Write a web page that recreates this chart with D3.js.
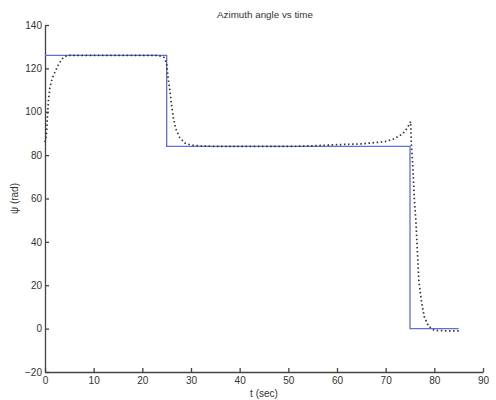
<!DOCTYPE html>
<html>
<head>
<meta charset="utf-8">
<script src="https://cdn.jsdelivr.net/npm/d3@7"></script>
<style>
  body { margin: 0; background: #fff; }
  text { font-family: "Liberation Sans", Arial, sans-serif; fill: #333; }
</style>
</head>
<body>
<script>
var width = 496,
    height = 400,
    margin = {top: 25, right: 13, bottom: 28, left: 45};

// commanded azimuth (step changes)
var stepTimes = [0, 25, 75, 85],
    stepLevels = [126, 84, 0, 0];

var respTimes = [0, 0.2, 0.35, 0.5, 0.7, 1.0, 1.3, 1.6, 2.0, 2.3, 2.7, 3.1, 3.6, 4.1, 5, 6, 8, 12, 16, 20, 23, 24, 24.5,
                 25, 25.3, 25.7, 26.0, 26.4, 26.9, 27.7, 28.8, 30, 32, 36, 40, 45, 50, 55, 60, 65, 68, 70, 71.6, 72.6,
                 73.6, 74.4, 75.0, 75.12, 75.3, 75.5, 75.7, 75.9, 76.2, 76.4, 76.6, 76.8, 77.3, 77.9, 78.8, 80, 82, 85];
var respValues = [86, 88, 91, 98, 105, 111, 114, 116, 118, 119.5, 121.5, 123, 124.5, 125.5, 126, 126, 126, 126, 126, 126, 126, 125.5, 125,
                  122, 115.5, 109, 103, 97, 92, 88, 85.5, 84.6, 84.2, 84, 84, 84, 84, 84.3, 84.8, 85.2, 85.8, 86.3, 87.4, 88.6,
                  90.1, 92.4, 94.8, 95.5, 84, 78, 69, 59.5, 50, 41, 32, 22.6, 13.4, 5.7, 1.1, -0.8, -1, -1];

var xTicks = d3.range(0, 91, 10),
    yTicks = d3.range(-20, 141, 20);

var svg = d3.select("body").append("svg")
    .attr("width", width)
    .attr("height", height);

var x = d3.scaleLinear().domain([0, 90]).range([margin.left, width - margin.right]);
var y = d3.scaleLinear().domain([-20, 140]).range([height - margin.bottom, margin.top]);

var xAxis = svg.append("g")
    .attr("transform", "translate(0," + y(-20) + ")")
    .call(d3.axisBottom(x).tickValues(xTicks).tickSizeInner(-4).tickSizeOuter(0).tickPadding(5));

var yAxis = svg.append("g")
    .attr("transform", "translate(" + x(0) + ",0)")
    .call(d3.axisLeft(y).tickValues(yTicks).tickSizeInner(-4).tickSizeOuter(0).tickPadding(3));

[xAxis, yAxis].forEach(function(g) {
  g.selectAll("path, line").attr("stroke", "#444").attr("stroke-width", 1.3);
  g.selectAll("text").style("font-size", "10px").attr("fill", "#333");
});

var stepLine = d3.line()
    .x(function(d, i) { return x(stepTimes[i]); })
    .y(function(d) { return y(d); })
    .curve(d3.curveStepAfter);

svg.append("path")
    .attr("d", stepLine(stepLevels))
    .attr("fill", "none")
    .attr("stroke", "#5d72d4")
    .attr("stroke-width", 1.3);

var respLine = d3.line()
    .x(function(d, i) { return x(respTimes[i]); })
    .y(function(d) { return y(d); });

svg.append("path")
    .attr("d", respLine(respValues))
    .attr("fill", "none")
    .attr("stroke", "#333")
    .attr("stroke-width", 1.7)
    .attr("stroke-dasharray", "1.5,2.6");

svg.append("text")
    .attr("x", 265)
    .attr("y", 18)
    .attr("text-anchor", "middle")
    .style("font-size", "9.8px")
    .text("Azimuth angle vs time");

svg.append("text")
    .attr("x", (x(0) + x(90)) / 2)
    .attr("y", 397)
    .attr("text-anchor", "middle")
    .style("font-size", "10px")
    .text("t (sec)");

svg.append("text")
    .attr("transform", "translate(18," + ((y(-20) + y(140)) / 2) + ") rotate(-90)")
    .attr("text-anchor", "middle")
    .style("font-size", "10px")
    .text("ψ (rad)");
</script>
</body>
</html>
